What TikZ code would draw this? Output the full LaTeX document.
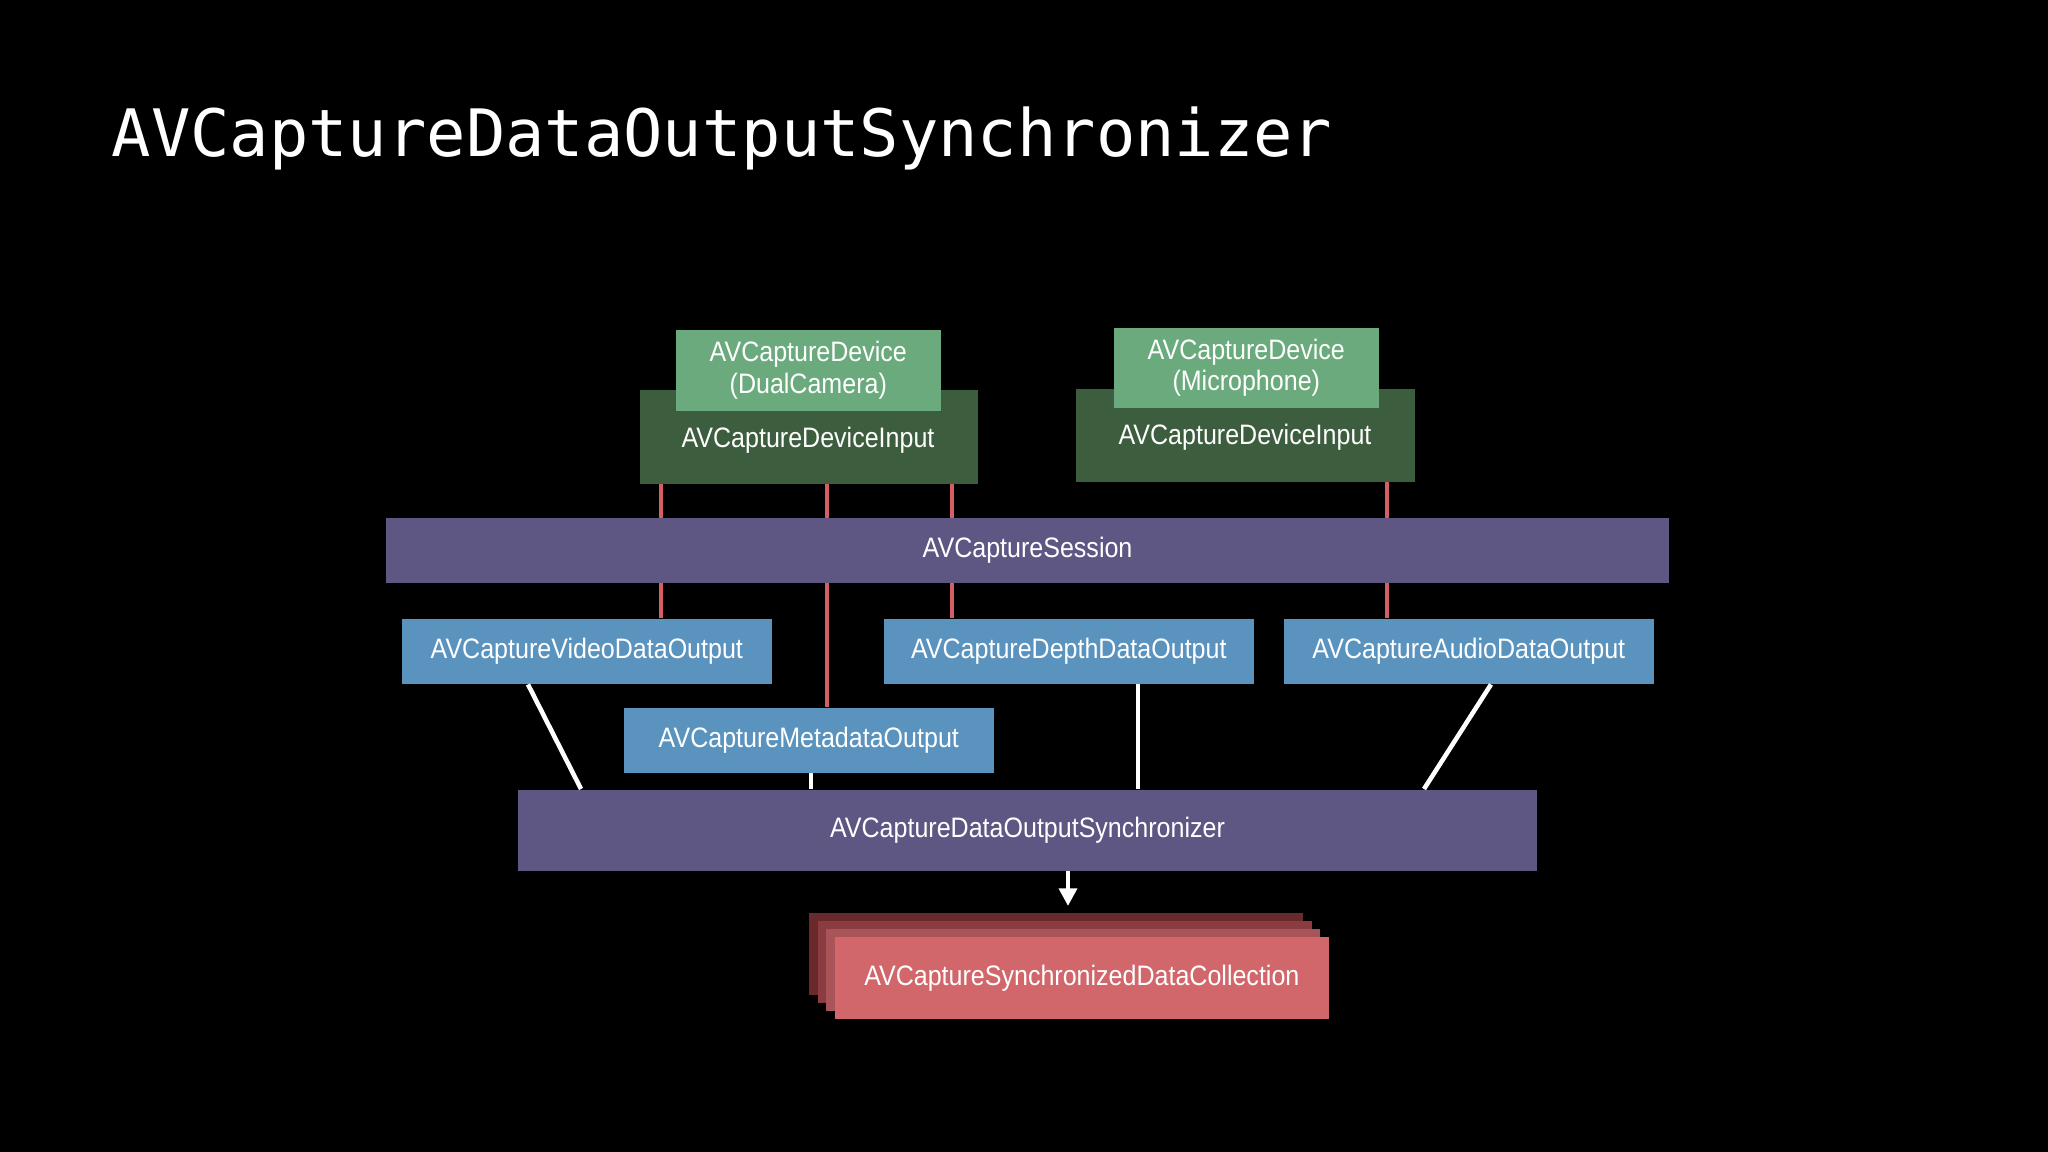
\documentclass[tikz,border=0pt]{standalone}
\usepackage{fontspec}
\usetikzlibrary{arrows.meta}
\setmainfont{Liberation Sans}[FakeStretch=0.89]
\newfontfamily\titlefont{DejaVu Sans Mono}
\definecolor{glight}{HTML}{6AAA7C}
\definecolor{gdark}{HTML}{3D5E3E}
\definecolor{purp}{HTML}{5F5783}
\definecolor{blu}{HTML}{5B93BF}
\definecolor{redf}{HTML}{D1666B}
\definecolor{red2}{HTML}{A95458}
\definecolor{red3}{HTML}{8A3C40}
\definecolor{red4}{HTML}{6A2A2C}
\definecolor{rline}{HTML}{D45E63}
\begin{document}
\begin{tikzpicture}[x=0.01cm,y=-0.01cm,
  box/.style={anchor=north west,inner sep=0pt,text=white,align=center,font=\fontsize{8pt}{9pt}\selectfont},
  lbl/.style={text=white,inner sep=0pt,font=\fontsize{8pt}{9pt}\selectfont},
  rl/.style={draw=rline,line width=1.1pt},
  wl/.style={draw=white,line width=1.3pt}]
\fill[black] (0,0) rectangle (2048,1152);
\useasboundingbox (0,0) rectangle (2048,1152);
\node[anchor=base west,inner sep=0pt,text=white,font=\titlefont\fontsize{18.6pt}{22pt}\selectfont] (title) at (111,157) {AVCaptureDataOutputSynchronizer};
% inputs
\node[box,fill=gdark,minimum width=3.38cm,minimum height=0.94cm] (in1) at (639,389) {};
\node[box,fill=glight,minimum width=2.65cm,minimum height=0.81cm] (dev1) at (675,329) {AVCaptureDevice\\(DualCamera)};
\node[lbl] (in1l) at (808,440) {AVCaptureDeviceInput};
\node[box,fill=gdark,minimum width=3.39cm,minimum height=0.93cm] (in2) at (1075,388) {};
\node[box,fill=glight,minimum width=2.65cm,minimum height=0.80cm] (dev2) at (1113,327) {AVCaptureDevice\\(Microphone)};
\node[lbl] (in2l) at (1245,437) {AVCaptureDeviceInput};
% outputs
\node[box,fill=blu,minimum width=3.70cm,minimum height=0.65cm] (vid) at (401,618) {AVCaptureVideoDataOutput};
\node[box,fill=blu,minimum width=3.70cm,minimum height=0.65cm] (dep) at (883,618) {AVCaptureDepthDataOutput};
\node[box,fill=blu,minimum width=3.70cm,minimum height=0.65cm] (aud) at (1283,618) {AVCaptureAudioDataOutput};
\node[box,fill=blu,minimum width=3.70cm,minimum height=0.65cm] (met) at (623,707) {AVCaptureMetadataOutput};
% synchronizer
\node[box,fill=purp,minimum width=10.19cm,minimum height=0.81cm] (syn) at (517,789) {AVCaptureDataOutputSynchronizer};
% stack
\node[box,fill=red4,minimum width=4.94cm,minimum height=0.82cm] (s4) at (808,912) {};
\node[box,fill=red3,minimum width=4.94cm,minimum height=0.82cm] (s3) at (817,920) {};
\node[box,fill=red2,minimum width=4.94cm,minimum height=0.82cm] (s2) at (825,928) {};
\node[box,fill=redf,minimum width=4.94cm,minimum height=0.82cm] (col) at (834,936) {AVCaptureSynchronizedDataCollection};
% red connectors
\coordinate (c1) at (661,0);
\coordinate (c2) at (827,0);
\coordinate (c3) at (952,0);
\coordinate (c4) at (1387,0);
\draw[rl] (in1.south -| c1) -- (vid.north -| c1);
\draw[rl] (in1.south -| c2) -- (met.north -| c2);
\draw[rl] (in1.south -| c3) -- (dep.north -| c3);
\draw[rl] (in2.south -| c4) -- (aud.north -| c4);
% session (drawn over the red lines)
\node[box,fill=purp,minimum width=12.83cm,minimum height=0.65cm] (ses) at (385,517) {AVCaptureSession};
% white connectors
\coordinate (w1) at (528,0);
\coordinate (w1b) at (581,0);
\coordinate (w2) at (811,0);
\coordinate (w3) at (1138,0);
\coordinate (w4) at (1491,0);
\coordinate (w4b) at (1424,0);
\draw[wl] (vid.south -| w1) -- (syn.north -| w1b);
\draw[wl] (met.south -| w2) -- (syn.north -| w2);
\draw[wl] (dep.south -| w3) -- (syn.north -| w3);
\draw[wl] (aud.south -| w4) -- (syn.north -| w4b);
\coordinate (ar) at (1068,0);
\coordinate (arend) at (1068,906);
\draw[wl,-{Triangle[length=5pt,width=5pt]}] (syn.south -| ar) -- (arend);
\end{tikzpicture}
\end{document}
